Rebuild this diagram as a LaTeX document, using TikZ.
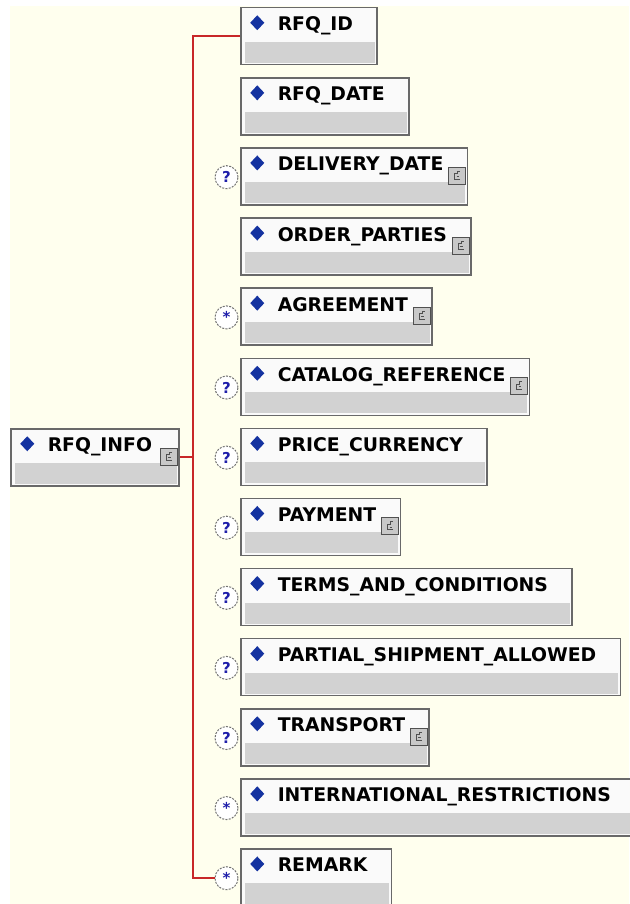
\documentclass[tikz,border=0pt]{standalone}
\usepackage{fontspec}
\newfontfamily\lblfont{DejaVu Sans}
\usetikzlibrary{calc}
\definecolor{bgcream}{RGB}{255,255,238}
\definecolor{boxborder}{RGB}{105,105,105}
\definecolor{boxlight}{RGB}{250,250,250}
\definecolor{boxgray}{RGB}{210,210,210}
\definecolor{dblue}{RGB}{20,50,160}
\definecolor{connred}{RGB}{200,40,40}
\definecolor{occblue}{RGB}{30,30,170}
\definecolor{icongray}{RGB}{200,200,200}
\definecolor{icondark}{RGB}{80,80,80}
\tikzset{
  elbox/.style={draw=boxborder, line width=1.5pt, fill=boxlight, anchor=north west,
    inner xsep=0pt, inner ysep=0pt, text height=23pt, text depth=34pt,
    font=\lblfont\bfseries\fontsize{18.8pt}{20pt}\selectfont,
    path picture={
      \fill[boxgray] ([shift={(4.5pt,2pt)}]path picture bounding box.south west)
        rectangle ([shift={(-2pt,-34pt)}]path picture bounding box.north east);
      \fill[dblue] ([shift={(16.5pt,-7.5pt)}]path picture bounding box.north west)
        -- ++(7pt,-7.5pt) -- ++(-7pt,-7.5pt) -- ++(-7pt,7.5pt) -- cycle;
    }},
  cicon/.style={draw=icondark, fill=icongray, line width=0.9pt, minimum size=17pt,
    inner sep=0pt,
    path picture={
      \begin{scope}[shift={(path picture bounding box.center)}]
        \draw[icondark, line width=0.9pt] (3pt,-3.5pt) -- (-2.5pt,-3.5pt) -- (-2.5pt,2pt) -- (1pt,2pt);
        \draw[icondark, line width=0.8pt] (-0.5pt,-0.8pt) -- (2pt,-0.8pt);
        \draw[icondark, line width=0.8pt] (0.5pt,2pt) -- (0.5pt,4.5pt) -- (3pt,4.5pt);
      \end{scope}
    }},
  occ/.style={circle, draw=black!55, dash pattern=on 2pt off 1.3pt, line width=1pt,
    fill=white, minimum size=23pt, inner sep=0pt, text=occblue,
    font=\lblfont\bfseries\fontsize{15pt}{15pt}\selectfont},
  conn/.style={draw=connred, line width=1.8pt},
}
\newcommand\iconat[1]{\node[cicon] (i#1) at ([shift={(-11pt,-28.5pt)}]#1.north east) {};}
\begin{document}
\begin{tikzpicture}[x=1pt,y=-1pt]
\fill[white] (0,0) rectangle (629,904);
\fill[bgcream] (10,6) rectangle (629,904);
\useasboundingbox (0,0) rectangle (629,904);

% parent
\node[elbox] (info) at (10,428) {\hspace*{37pt}RFQ\_INFO\hspace*{27pt}};
\iconat{info}

% children
\node[elbox] (c1)  at (240,7.0)   {\hspace*{37pt}RFQ\_ID\hspace*{24pt}};
\node[elbox] (c2)  at (240,77.1)  {\hspace*{37pt}RFQ\_DATE\hspace*{24pt}};
\node[elbox] (c3)  at (240,147.2) {\hspace*{37pt}DELIVERY\_DATE\hspace*{24pt}};
\node[elbox] (c4)  at (240,217.3) {\hspace*{37pt}ORDER\_PARTIES\hspace*{24pt}};
\node[elbox] (c5)  at (240,287.4) {\hspace*{37pt}AGREEMENT\hspace*{24pt}};
\node[elbox] (c6)  at (240,357.5) {\hspace*{37pt}CATALOG\_REFERENCE\hspace*{24pt}};
\node[elbox] (c7)  at (240,427.6) {\hspace*{37pt}PRICE\_CURRENCY\hspace*{24pt}};
\node[elbox] (c8)  at (240,497.7) {\hspace*{37pt}PAYMENT\hspace*{24pt}};
\node[elbox] (c9)  at (240,567.8) {\hspace*{37pt}TERMS\_AND\_CONDITIONS\hspace*{24pt}};
\node[elbox] (c10) at (240,637.9) {\hspace*{37pt}PARTIAL\_SHIPMENT\_ALLOWED\hspace*{24pt}};
\node[elbox] (c11) at (240,708.0) {\hspace*{37pt}TRANSPORT\hspace*{24pt}};
\node[elbox] (c12) at (240,778.1) {\hspace*{37pt}INTERNATIONAL\_RESTRICTIONS\hspace*{24pt}};
\node[elbox] (c13) at (240,848.2) {\hspace*{37pt}REMARK\hspace*{24pt}};

% complex-type icons
\iconat{c3}
\iconat{c4}
\iconat{c5}
\iconat{c6}
\iconat{c8}
\iconat{c11}

% occurrence markers
\node[occ] (o3)  at (226.5,177.2) {?};
\node[occ] (o5)  at (226.5,317.4) {\raisebox{-3pt}{*}};
\node[occ] (o6)  at (226.5,387.5) {?};
\node[occ] (o7)  at (226.5,457.6) {?};
\node[occ] (o8)  at (226.5,527.7) {?};
\node[occ] (o9)  at (226.5,597.8) {?};
\node[occ] (o10) at (226.5,667.9) {?};
\node[occ] (o11) at (226.5,738.0) {?};
\node[occ] (o12) at (226.5,808.1) {\raisebox{-3pt}{*}};
\node[occ] (o13) at (226.5,878.2) {\raisebox{-3pt}{*}};

% connectors
\coordinate (bus) at (193,0);
\draw[conn] (info.east) -- (info.east -| bus);
\draw[conn] (c1.west) -- (c1.west -| bus) -- (o13.west -| bus) -- (o13.west);
\end{tikzpicture}
\end{document}
